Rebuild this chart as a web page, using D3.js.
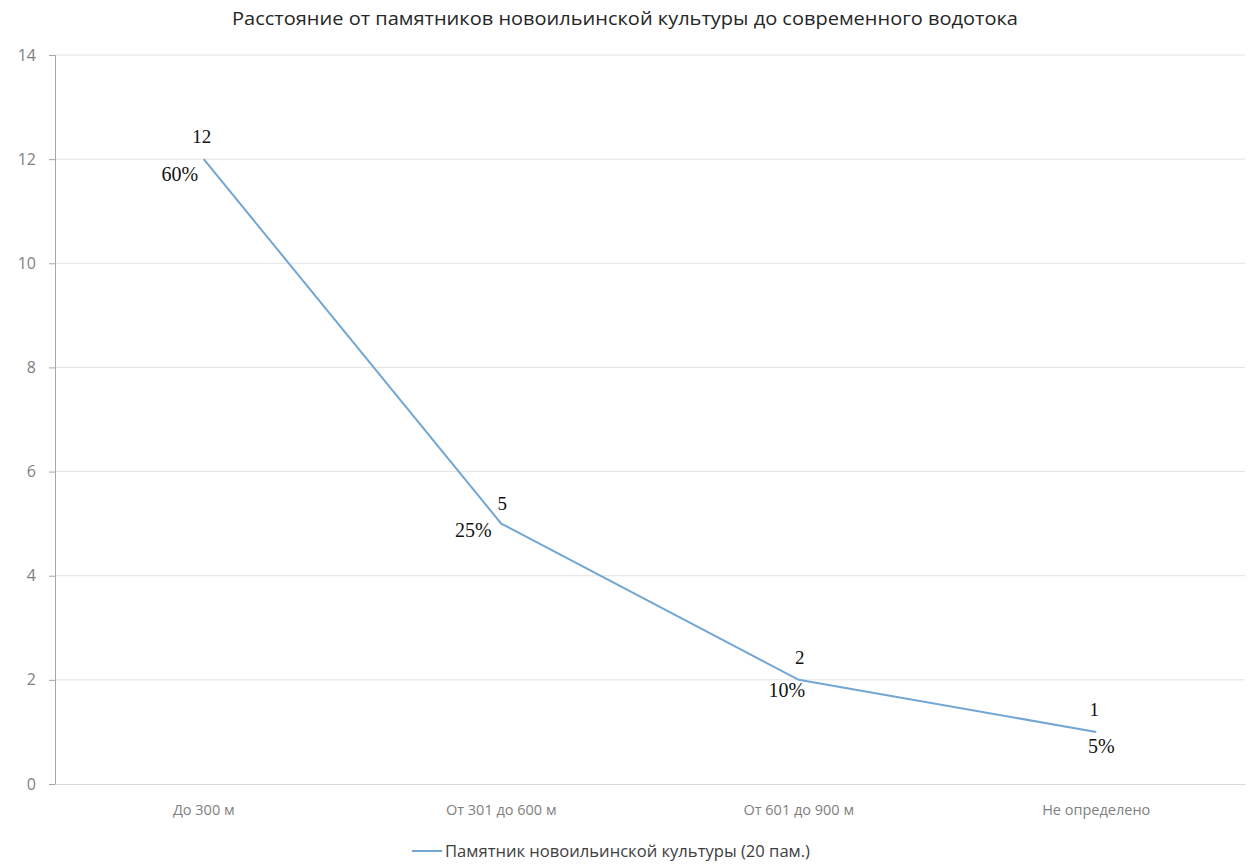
<!DOCTYPE html>
<html><head><meta charset="utf-8">
<script src="https://cdn.jsdelivr.net/npm/d3@7"></script>
<style>body{margin:0;background:#fff}svg{display:block}</style>
</head><body>
<svg id="c" width="1248" height="865"></svg>
<script>
const categories = ["До 300 м", "От 301 до 600 м", "От 601 до 900 м", "Не определено"];
const values = [12, 5, 2, 1];
const percents = ["60%", "25%", "10%", "5%"];
const yTicks = [0, 2, 4, 6, 8, 10, 12, 14];
const title = "Расстояние от памятников новоильинской культуры до современного водотока";
const seriesName = "Памятник новоильинской культуры (20 пам.)";
// label nudges (styling)
const valueNudge = [[-2,-16],[1,-14],[1,-16],[-2,-16]];
const pctNudge = [[-24,22],[-28,13],[-12,17],[5,21]];

const svg = d3.select("#c");
const m = {l:55, r:3, t:55, b:81};
const W = 1248, H = 865;
const x = d3.scaleBand().domain(categories).range([m.l, W-m.r]);
const y = d3.scaleLinear().domain([0,14]).range([H-m.b, m.t]);
const font = "'Open Sans', 'Noto Sans', sans-serif";

svg.append("text").attr("x", 625).attr("y", 25).attr("text-anchor","middle")
  .attr("font-family", font).attr("font-size", 19).attr("fill","#262626")
  .attr("textLength", 786).attr("lengthAdjust","spacingAndGlyphs").text(title);

// gridlines
svg.append("g").selectAll("line").data(yTicks.filter(d=>d>0)).join("line")
  .attr("x1", m.l).attr("x2", W-m.r).attr("y1", d=>y(d)).attr("y2", d=>y(d))
  .attr("stroke","#e3e3e3").attr("stroke-width",1);

// y axis
const ya = svg.append("g").attr("transform",`translate(${m.l},0)`)
  .call(d3.axisLeft(y).tickValues(yTicks).tickSize(6).tickPadding(13));
ya.select(".domain").attr("stroke","#a6a6a6");
ya.selectAll(".tick line").attr("stroke","#a6a6a6");
ya.selectAll("text").attr("font-family",font).attr("font-size",16).attr("fill","#7f7f7f");

// x axis
const xa = svg.append("g").attr("transform",`translate(0,${H-m.b})`)
  .call(d3.axisBottom(x).tickSize(0).tickPadding(21));
xa.select(".domain").attr("stroke","#d9d9d9");
xa.selectAll("text").attr("font-family",font).attr("font-size",14.5).attr("fill","#7f7f7f");

const cx = (d,i) => x(categories[i]) + x.bandwidth()/2;
const line = d3.line().x((d,i)=>cx(d,i)).y(d=>y(d));
svg.append("path").datum(values).attr("d", line).attr("fill","none")
  .attr("stroke","#72a6d4").attr("stroke-width",2);

svg.append("g").selectAll("text").data(values).join("text")
  .attr("x",(d,i)=>cx(d,i)+valueNudge[i][0]).attr("y",(d,i)=>y(d)+valueNudge[i][1])
  .attr("text-anchor","middle").attr("font-family","'Liberation Serif', serif")
  .attr("font-size",19).attr("fill","#111").text(d=>d);

svg.append("g").selectAll("text").data(percents).join("text")
  .attr("x",(d,i)=>cx(values[i],i)+pctNudge[i][0]).attr("y",(d,i)=>y(values[i])+pctNudge[i][1])
  .attr("text-anchor","middle").attr("font-family","'Liberation Serif', serif")
  .attr("font-size",20).attr("fill","#111").text(d=>d);

// legend
const lg = svg.append("g");
lg.append("line").attr("x1",412).attr("x2",442).attr("y1",851).attr("y2",851)
  .attr("stroke","#72a6d4").attr("stroke-width",2);
lg.append("text").attr("x",445).attr("y",857).attr("font-family",font)
  .attr("font-size",16).attr("fill","#404040")
  .attr("textLength", 365).attr("lengthAdjust","spacingAndGlyphs").text(seriesName);
</script>
</body></html>
